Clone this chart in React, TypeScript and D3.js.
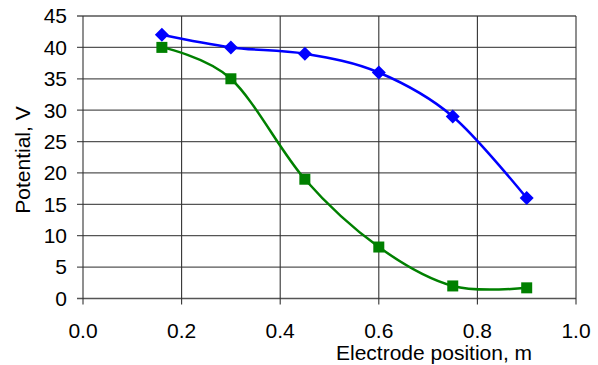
import React from 'react';
import * as d3 from 'd3';

// electrode positions (m)
const positions = [0.16, 0.3, 0.45, 0.6, 0.75, 0.9];
const bluePotential = [42, 40, 39, 36, 29, 16];
const greenPotential = [40, 35, 19, 8.2, 2, 1.7];
const xTicks = [0, 0.2, 0.4, 0.6, 0.8, 1.0];
const yTicks = [0, 5, 10, 15, 20, 25, 30, 35, 40, 45];

const width = 598;
const height = 365;
const margin = { top: 16, right: 22, bottom: 66.5, left: 83 };

const App = () => {
  const x = d3.scaleLinear()
    .domain([0, 1])
    .range([margin.left, width - margin.right]);

  const y = d3.scaleLinear()
    .domain([0, 45])
    .range([height - margin.bottom, margin.top]);

  const line = d3.line<number>()
    .x((_, i) => x(positions[i]))
    .y(d => y(d))
    .curve(d3.curveCardinal.tension(0));

  const font = 'Liberation Sans, Arial, sans-serif';
  const x0 = x(0), x1 = x(1), y0 = y(0), y1 = y(45);

  return (
    <svg width={width} height={height}
      style={{ position: 'absolute', left: 0, top: 0, background: '#fff' }}>
      {/* horizontal grid */}
      {yTicks.map(t => (
        <line key={'h' + t} x1={x0 - 6} x2={x1} y1={y(t)} y2={y(t)}
          stroke="#555" strokeWidth={1.3} />
      ))}
      {/* vertical grid */}
      {xTicks.map(t => (
        <line key={'v' + t} x1={x(t)} x2={x(t)} y1={y1} y2={y0 + 6}
          stroke="#333" strokeWidth={1.1} />
      ))}

      {/* y tick labels */}
      {yTicks.map(t => (
        <text key={'yl' + t} x={x0 - 16} y={y(t)} dy="0.35em"
          textAnchor="end" fontFamily={font} fontSize={21} fill="#000">
          {t}
        </text>
      ))}
      {/* x tick labels */}
      {xTicks.map(t => (
        <text key={'xl' + t} x={x(t)} y={338}
          textAnchor="middle" fontFamily={font} fontSize={21} fill="#000">
          {d3.format('.1f')(t)}
        </text>
      ))}

      <text x={336} y={360} textAnchor="start" fontFamily={font}
        fontSize={21} fill="#000">Electrode position, m</text>
      <text transform="translate(30,160) rotate(-90)" textAnchor="middle"
        fontFamily={font} fontSize={21} fill="#000">Potential, V</text>

      {/* series */}
      <path d={line(greenPotential) ?? ''} fill="none" stroke="#008000" strokeWidth={2.5} />
      <path d={line(bluePotential) ?? ''} fill="none" stroke="#0000ff" strokeWidth={2.5} />

      {greenPotential.map((v, i) => (
        <rect key={'g' + i} x={x(positions[i]) - 5.5} y={y(v) - 5.5}
          width={11} height={11} fill="#008000" />
      ))}
      {bluePotential.map((v, i) => (
        <path key={'b' + i} transform={`translate(${x(positions[i])},${y(v)})`}
          d="M0,-7L7,0L0,7L-7,0Z" fill="#0000ff" />
      ))}
    </svg>
  );
};

export default App;
